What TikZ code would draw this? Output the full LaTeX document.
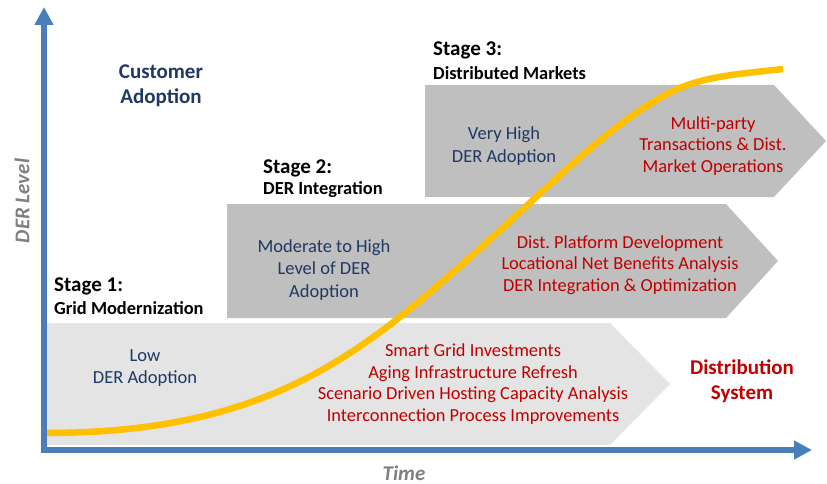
\documentclass[tikz,border=0pt]{standalone}
\usepackage{fontspec}
\setmainfont{Carlito}
\usetikzlibrary{arrows.meta}
\definecolor{axisblue}{HTML}{4A7EBB}
\definecolor{curvey}{HTML}{FFC000}
\definecolor{lightg}{HTML}{E4E4E4}
\definecolor{midg}{HTML}{BFBFBF}
\definecolor{navy}{HTML}{1F3864}
\definecolor{darkred}{HTML}{C00000}
\definecolor{labgray}{HTML}{7F7F7F}
\frenchspacing
\begin{document}
\begin{tikzpicture}[x=1pt,y=-1pt,
  bluetxt/.style={text=navy, font=\fontsize{18.5}{22.7}\selectfont, align=center, inner sep=0pt},
  redtxt/.style={text=darkred, font=\fontsize{18.4}{21.8}\selectfont, align=center, inner sep=0pt},
  bigtxt/.style={font=\bfseries\fontsize{21}{25}\selectfont, align=center, inner sep=0pt},
  stagehead/.style={font=\bfseries\fontsize{21}{24}\selectfont, anchor=west, inner sep=0pt},
  stagesub/.style={font=\bfseries\fontsize{18.4}{21}\selectfont, anchor=west, inner sep=0pt},
  axislabel/.style={text=labgray, font=\bfseries\itshape\fontsize{21}{25}\selectfont, inner sep=0pt},
  axisline/.style={draw=axisblue, line width=5.5pt, line join=miter,
    {Triangle[length=18pt,width=18pt]}-{Triangle[length=18pt,width=18pt]}},
  ]
\useasboundingbox (0,0) rectangle (827,484);
% stage chevrons
\fill[lightg] (47,323) -- (610,323) -- (670,384) -- (610,445) -- (47,445) -- cycle;
\fill[midg] (227,204) -- (726,204) -- (778,261) -- (726,318) -- (227,318) -- cycle;
\fill[midg] (425,85) -- (774,85) -- (826,141) -- (774,197) -- (425,197) -- cycle;
% adoption curve
\coordinate (c0) at (45,433);
\coordinate (c1) at (450,275);
\coordinate (c2) at (667,94);
\coordinate (c3) at (783,69);
\draw[curvey, line width=6.5pt]
  (c0) .. controls (250,433) and (345,367) .. (c1)
       .. controls (540,197) and (600,130) .. (c2)
       .. controls (700,76) and (740,74) .. (c3);
% axes
\coordinate (ytop) at (44,7);
\coordinate (origin) at (44,450);
\coordinate (xend) at (812,450);
\draw[axisline] (ytop) -- (origin) -- (xend);
% axis labels
\node[axislabel, rotate=90] (derlevel) at (22,201) {DER Level};
\node[axislabel] (time) at (404,473) {Time};
% headline labels
\node[bigtxt, text=navy] (customer) at (161,86) {Customer\\Adoption};
\node[bigtxt, text=darkred] (distsys) at (742,381) {Distribution\\System};
% stage titles
\node[stagehead] (s1h) at (54,286) {Stage 1:};
\node[stagesub] (s1s) at (54,308) {Grid Modernization};
\node[stagehead] (s2h) at (263,168) {Stage 2:};
\node[stagesub] (s2s) at (263,190) {DER Integration};
\node[stagehead] (s3h) at (433,50) {Stage 3:};
\node[stagesub] (s3s) at (433,73) {Distributed Markets};
% customer side texts
\node[bluetxt] (low) at (145,368) {Low\\DER Adoption};
\node[bluetxt] (moderate) at (324,270) {Moderate to High\\Level of DER\\Adoption};
\node[bluetxt] (veryhigh) at (504,146) {Very High\\DER Adoption};
% distribution side texts
\node[redtxt] (s1red) at (473,384) {Smart Grid Investments\\Aging Infrastructure Refresh\\Scenario Driven Hosting Capacity Analysis\\Interconnection Process Improvements};
\node[redtxt] (s2red) at (620,265) {Dist. Platform Development\\Locational Net Benefits Analysis\\DER Integration \& Optimization};
\node[redtxt] (s3red) at (713,146) {Multi-party\\Transactions \& Dist.\\Market Operations};
\end{tikzpicture}
\end{document}
